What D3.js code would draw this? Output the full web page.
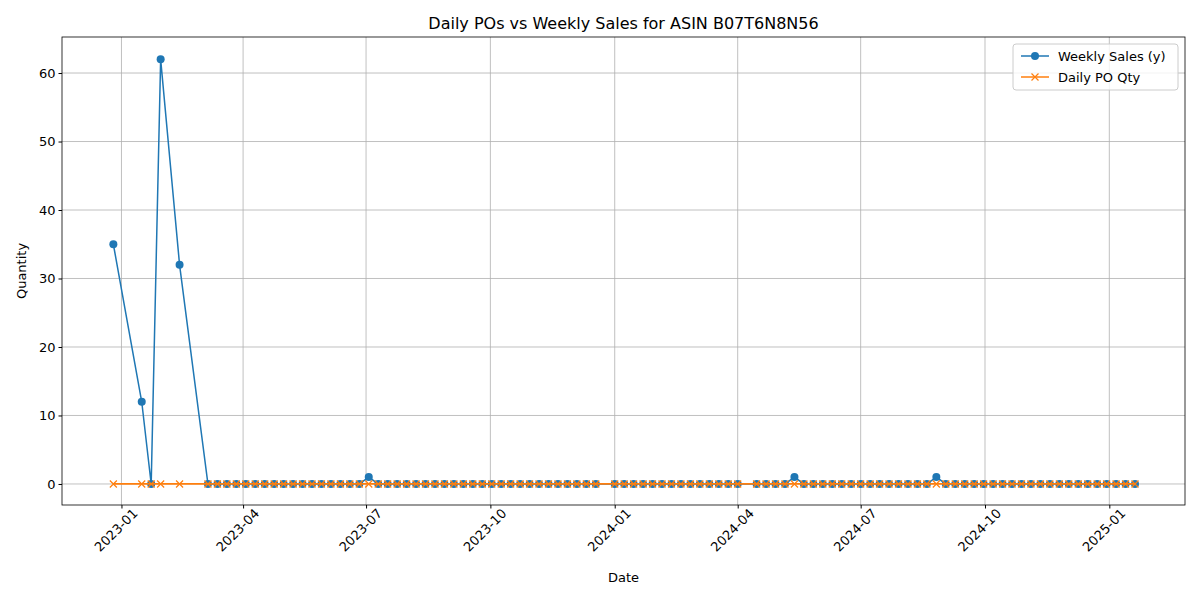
<!DOCTYPE html>
<html>
<head>
<meta charset="utf-8">
<script src="https://cdn.jsdelivr.net/npm/d3@7"></script>
<style>
  body { margin: 0; background: #fff; }
  text { font-family: "DejaVu Sans", sans-serif; }
</style>
</head>
<body>
<script>
// weekly dates (Mondays), given as runs of consecutive weeks
var early_dates = ["2022-12-26", "2023-01-16", "2023-01-23", "2023-01-30", "2023-02-13"];
var week_runs = [["2023-03-06", "2023-12-18"], ["2024-01-01", "2024-04-01"], ["2024-04-15", "2025-01-20"]];

// weekly sales, one value per date above
var sales = [35, 12, 0, 62, 32,
  0,0,0,0,0,0,0,0,0,0, 0,0,0,0,0,0,0,1,0,0, 0,0,0,0,0,0,0,0,0,0, 0,0,0,0,0,0,0,0,0,0, 0,0,
  0,0,0,0,0,0,0,0,0,0, 0,0,0,0,
  0,0,0,0,1,0,0,0,0,0, 0,0,0,0,0,0,0,0,0,1, 0,0,0,0,0,0,0,0,0,0, 0,0,0,0,0,0,0,0,0,0, 0];
// daily PO quantity on the same dates
var po_qty = [0,0,0,0,0,
  0,0,0,0,0,0,0,0,0,0, 0,0,0,0,0,0,0,0,0,0, 0,0,0,0,0,0,0,0,0,0, 0,0,0,0,0,0,0,0,0,0, 0,0,
  0,0,0,0,0,0,0,0,0,0, 0,0,0,0,
  0,0,0,0,0,0,0,0,0,0, 0,0,0,0,0,0,0,0,0,0, 0,0,0,0,0,0,0,0,0,0, 0,0,0,0,0,0,0,0,0,0, 0];

var parse = d3.utcParse("%Y-%m-%d");
var dates = early_dates.map(parse);
week_runs.forEach(function(r) {
  var end = d3.utcDay.offset(parse(r[1]), 1);
  dates = dates.concat(d3.utcMonday.range(parse(r[0]), end));
});
var data = dates.map(function(d, i) { return {date: d, sales: sales[i], po: po_qty[i]}; });

var W = 1200, H = 600;
var m = {top: 37, right: 15, bottom: 95, left: 62};
var w = W - m.left - m.right, h = H - m.top - m.bottom;

var svg = d3.select("body").append("svg").attr("width", W).attr("height", H);
var g = svg.append("g").attr("transform", "translate(" + m.left + "," + m.top + ")");

var x = d3.scaleUtc().domain([parse("2022-11-18"), parse("2025-02-26")]).range([0, w]);
var y = d3.scaleLinear().domain([-3.07, 65.26]).range([h, 0]);

var xticks = d3.utcMonth.every(3).range(parse("2023-01-01"), parse("2025-02-01"));
var yticks = [0, 10, 20, 30, 40, 50, 60];

// grid
g.selectAll(".gx").data(xticks).enter().append("line")
  .attr("x1", function(d) { return x(d); }).attr("x2", function(d) { return x(d); })
  .attr("y1", 0).attr("y2", h).attr("stroke", "#b0b0b0").attr("stroke-width", 0.8);
g.selectAll(".gy").data(yticks).enter().append("line")
  .attr("y1", function(d) { return y(d); }).attr("y2", function(d) { return y(d); })
  .attr("x1", 0).attr("x2", w).attr("stroke", "#b0b0b0").attr("stroke-width", 0.8);

// sales line + markers
g.append("path").datum(data).attr("fill", "none").attr("stroke", "#1f77b4").attr("stroke-width", 1.5)
  .attr("d", d3.line().x(function(d) { return x(d.date); }).y(function(d) { return y(d.sales); }));
g.selectAll(".dot").data(data).enter().append("circle")
  .attr("cx", function(d) { return x(d.date); }).attr("cy", function(d) { return y(d.sales); })
  .attr("r", 4).attr("fill", "#1f77b4");

// PO line + x markers
g.append("path").datum(data).attr("fill", "none").attr("stroke", "#ff7f0e").attr("stroke-width", 1.8)
  .attr("d", d3.line().x(function(d) { return x(d.date); }).y(function(d) { return y(d.po); }));
var cross = "M-3.5,-3.5L3.5,3.5M-3.5,3.5L3.5,-3.5";
g.selectAll(".xm").data(data).enter().append("path")
  .attr("transform", function(d) { return "translate(" + x(d.date) + "," + y(d.po) + ")"; })
  .attr("d", cross).attr("stroke", "#ff7f0e").attr("stroke-width", 1.2).attr("fill", "none");

// axes
var xa = g.append("g").attr("transform", "translate(0," + h + ")")
  .call(d3.axisBottom(x).tickValues(xticks).tickFormat(d3.utcFormat("%Y-%m")).tickSize(3.5).tickSizeOuter(0));
xa.selectAll("text").attr("transform", "rotate(-45)").style("text-anchor", "end")
  .attr("dx", "0.4em").attr("dy", "0.9em");
var ya = g.append("g").call(d3.axisLeft(y).tickValues(yticks).tickSize(3.5).tickSizeOuter(0));
[xa, ya].forEach(function(a) {
  a.select(".domain").remove();
  a.selectAll("text").style("font-size", "13px").attr("fill", "#000");
  a.selectAll("line").attr("stroke", "#000");
});
g.append("rect").attr("width", w).attr("height", h).attr("fill", "none").attr("stroke", "#000").attr("stroke-width", 0.8);

// labels
svg.append("text").attr("x", m.left + w / 2).attr("y", 29).attr("text-anchor", "middle")
  .style("font-size", "16px").text("Daily POs vs Weekly Sales for ASIN B07T6N8N56");
svg.append("text").attr("x", m.left + w / 2).attr("y", 582).attr("text-anchor", "middle")
  .style("font-size", "13px").text("Date");
svg.append("text").attr("transform", "translate(26," + (m.top + h / 2) + ") rotate(-90)")
  .attr("text-anchor", "middle").style("font-size", "13px").text("Quantity");

// legend
var lg = svg.append("g").attr("transform", "translate(1013,44)");
lg.append("rect").attr("width", 165).attr("height", 46).attr("rx", 3)
  .attr("fill", "#fff").attr("fill-opacity", 0.8).attr("stroke", "#ccc");
lg.append("line").attr("x1", 8).attr("x2", 36).attr("y1", 12).attr("y2", 12).attr("stroke", "#1f77b4").attr("stroke-width", 1.5);
lg.append("circle").attr("cx", 22).attr("cy", 12).attr("r", 4).attr("fill", "#1f77b4");
lg.append("text").attr("x", 45).attr("y", 17).style("font-size", "13px").text("Weekly Sales (y)");
lg.append("line").attr("x1", 8).attr("x2", 36).attr("y1", 33).attr("y2", 33).attr("stroke", "#ff7f0e").attr("stroke-width", 1.5);
lg.append("path").attr("transform", "translate(22,33)").attr("d", cross).attr("stroke", "#ff7f0e").attr("stroke-width", 1.2);
lg.append("text").attr("x", 45).attr("y", 38).style("font-size", "13px").text("Daily PO Qty");
</script>
</body>
</html>
